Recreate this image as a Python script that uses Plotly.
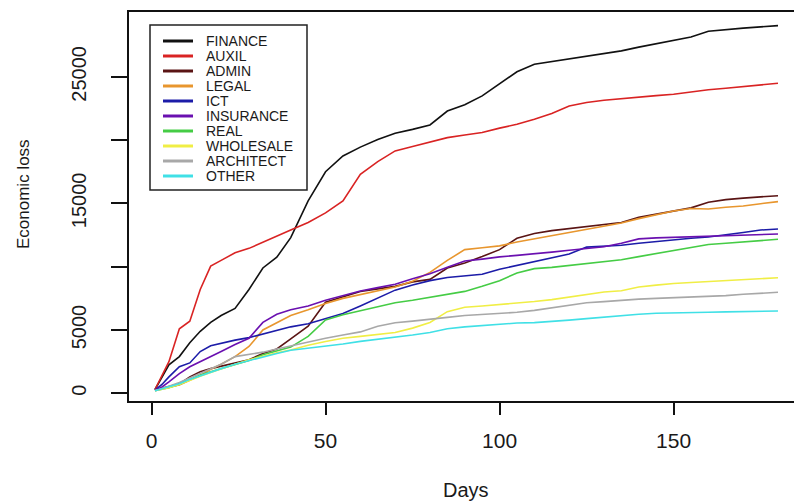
import plotly.graph_objects as go

days = [1, 3, 5, 8, 11, 14, 17, 20, 24, 28, 32, 36, 40, 45, 50, 55, 60, 65, 70, 75,
        80, 85, 90, 95, 100, 105, 110, 115, 120, 125, 130, 135, 140, 145, 150, 155,
        160, 165, 170, 175, 180]

finance = [300, 1300, 2250, 2900, 4000, 4900, 5600, 6150, 6700, 8200,
           9900, 10750, 12300, 15200, 17500, 18750, 19450, 20050, 20550, 20850,
           21200, 22300, 22800, 23500, 24450, 25400, 26000, 26200, 26400, 26650,
           26850, 27050, 27350, 27600, 27850, 28150, 28600, 28750, 28850, 28950, 29050]
auxil = [300, 1400, 2500, 5100, 5700, 8200, 10050, 10500, 11100, 11450,
         11950, 12450, 12900, 13500, 14250, 15200, 17300, 18300, 19150, 19500,
         19850, 20200, 20400, 20600, 20950, 21250, 21650, 22100, 22700, 22980,
         23150, 23280, 23420, 23520, 23620, 23800, 23980, 24100, 24230, 24350, 24490]
admin = [250, 400, 550, 750, 1300, 1700, 1950, 2150, 2400, 2650,
         3150, 3500, 4300, 5300, 7200, 7650, 8050, 8250, 8450, 8800,
         9000, 9900, 10300, 10800, 11350, 12250, 12620, 12850, 13000, 13200,
         13350, 13500, 13900, 14150, 14450, 14650, 15100, 15300, 15420, 15520, 15610]
legal = [250, 400, 500, 650, 1000, 1400, 1900, 2300, 2900, 3700,
         5000, 5550, 6150, 6600, 7100, 7500, 7800, 8100, 8400, 8850,
         9550, 10500, 11350, 11500, 11650, 11950, 12200, 12450, 12700, 12950,
         13200, 13450, 13800, 14100, 14400, 14600, 14560, 14700, 14800, 14980, 15140]
ict = [250, 700, 1300, 2100, 2400, 3300, 3750, 3950, 4200, 4400,
       4700, 5000, 5250, 5500, 5900, 6300, 6900, 7550, 8150, 8550,
       8900, 9150, 9300, 9400, 9800, 10100, 10400, 10700, 11000, 11550,
       11600, 11700, 11850, 12000, 12150, 12250, 12350, 12500, 12700, 12900, 12980]
insurance = [250, 500, 900, 1550, 2100, 2500, 2850, 3300, 3850, 4350,
             5600, 6250, 6600, 6900, 7350, 7700, 8080, 8350, 8620, 9050,
             9450, 9950, 10450, 10600, 10780, 10900, 11000, 11150, 11300, 11450,
             11580, 11850, 12200, 12280, 12320, 12380, 12430, 12470, 12510, 12550, 12585]
real = [200, 300, 450, 700, 1100, 1450, 1700, 1950, 2250, 2600,
        3050, 3350, 3650, 4500, 5800, 6200, 6500, 6850, 7150, 7350,
        7600, 7850, 8050, 8450, 8900, 9500, 9850, 9950, 10100, 10250,
        10420, 10550, 10800, 11050, 11280, 11550, 11760, 11850, 11950, 12050, 12170]
wholesale = [200, 300, 450, 700, 1050, 1350, 1650, 1950, 2300, 2650,
             2950, 3200, 3420, 3800, 4100, 4350, 4500, 4650, 4800, 5150,
             5600, 6450, 6800, 6900, 7000, 7100, 7250, 7400, 7600, 7800,
             8000, 8100, 8400, 8550, 8680, 8750, 8820, 8880, 8950, 9050, 9130]
architect = [200, 350, 550, 850, 1200, 1550, 1900, 2300, 2900, 3050,
             3250, 3500, 3750, 4080, 4350, 4600, 4850, 5300, 5580, 5700,
             5830, 6000, 6150, 6230, 6300, 6400, 6550, 6750, 7000, 7150,
             7240, 7350, 7440, 7500, 7550, 7600, 7630, 7720, 7820, 7900, 7980]
other = [200, 350, 500, 750, 1100, 1400, 1700, 1950, 2300, 2600,
         2850, 3150, 3400, 3550, 3700, 3900, 4100, 4250, 4400, 4600,
         4800, 5100, 5250, 5350, 5500, 5550, 5580, 5650, 5780, 5900,
         6020, 6150, 6250, 6330, 6370, 6390, 6400, 6430, 6450, 6480, 6500]

names = ["FINANCE", "AUXIL", "ADMIN", "LEGAL", "ICT", "INSURANCE", "REAL",
         "WHOLESALE", "ARCHITECT", "OTHER"]
series = [finance, auxil, admin, legal, ict, insurance, real, wholesale, architect, other]
colors = ["#111111", "#d92323", "#5a1414", "#e8962e", "#1c1ca8", "#6a10b0",
          "#45cc45", "#f0ee45", "#a8a8a8", "#40e0e6"]

x_ticks = [0, 50, 100, 150]
y_ticks = [0, 5000, 10000, 15000, 20000, 25000]
y_ticktext = ["0", "5000", "", "15000", "", "25000"]

FONT = "Liberation Sans, Arial, Helvetica, sans-serif"

fig = go.Figure()
for name, vals, col in zip(names, series, colors):
    fig.add_trace(go.Scatter(x=days, y=vals, mode="lines", name=name,
                             line=dict(color=col, width=1.6), showlegend=False))

W, H = 794, 503
L, T, R, B = 129, 12, 0, 102
pw, ph = W - L - R, H - T - B

def px_x(p):
    return (p - L) / pw

def px_y(p):
    return (H - B - p) / ph

shapes = [dict(type="rect", xref="paper", yref="paper",
               x0=px_x(150), x1=px_x(307), y0=px_y(190), y1=px_y(25),
               line=dict(color="#222222", width=1.5), fillcolor="white", layer="above")]
annotations = []
for i, (name, col) in enumerate(zip(names, colors)):
    yy = px_y(41 + 15 * i)
    shapes.append(dict(type="line", xref="paper", yref="paper",
                       x0=px_x(163), x1=px_x(193), y0=yy, y1=yy,
                       line=dict(color=col, width=3), layer="above"))
    annotations.append(dict(xref="paper", yref="paper", x=px_x(204), y=yy,
                            text=name, showarrow=False, xanchor="left", yanchor="middle",
                            font=dict(family=FONT, size=14, color="#1a1a1a")))

annotations.append(dict(xref="paper", yref="paper", x=px_x(466), y=px_y(490),
                        text="Days", showarrow=False, xanchor="center", yanchor="middle",
                        font=dict(family=FONT, size=20, color="#1a1a1a")))
annotations.append(dict(xref="paper", yref="paper", x=px_x(24), y=px_y(194),
                        text="Economic loss", showarrow=False, textangle=-90,
                        xanchor="center", yanchor="middle",
                        font=dict(family=FONT, size=17, color="#1a1a1a")))

fig.update_layout(
    width=W, height=H,
    margin=dict(l=L, r=R, t=T, b=B, pad=0),
    paper_bgcolor="white", plot_bgcolor="white",
    shapes=shapes, annotations=annotations,
    showlegend=False,
)
fig.update_xaxes(range=[-6.47, 184.6], tickvals=x_ticks, ticktext=[str(v) for v in x_ticks],
                 showgrid=False, zeroline=False, showline=True, linecolor="#111111",
                 linewidth=1.5, mirror=True, ticks="outside", ticklen=12, tickwidth=1.5,
                 tickcolor="#111111", ticklabelstandoff=8,
                 tickfont=dict(family=FONT, size=21, color="#1a1a1a"))
fig.update_yaxes(range=[-608, 30123], tickvals=y_ticks, ticktext=y_ticktext,
                 showgrid=False, zeroline=False, showline=True, linecolor="#111111",
                 linewidth=1.5, mirror=False, ticks="outside", ticklen=16, tickwidth=1.5,
                 tickcolor="#111111", tickangle=-90, ticklabelstandoff=17,
                 tickfont=dict(family=FONT, size=20, color="#1a1a1a"))

fig.write_html("out.html")
